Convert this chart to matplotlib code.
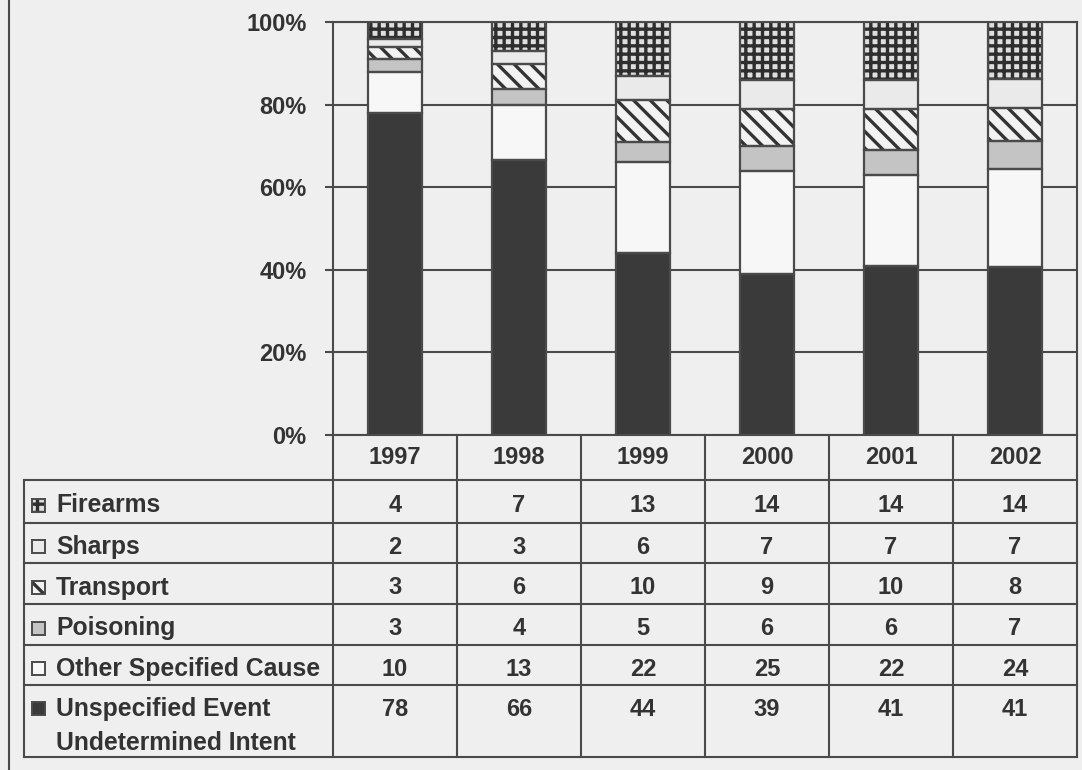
import numpy as np
import matplotlib
matplotlib.use("Agg")
import matplotlib.pyplot as plt
from matplotlib.patches import Rectangle

plt.rcParams['font.family'] = ['Liberation Sans', 'DejaVu Sans']
plt.rcParams['font.weight'] = 'bold'
plt.rcParams['hatch.linewidth'] = 2.4

years = ['1997', '1998', '1999', '2000', '2001', '2002']
causes = ['Firearms', 'Sharps', 'Transport', 'Poisoning',
          'Other Specified Cause', 'Unspecified Event\nUndetermined Intent']
firearms = [4, 7, 13, 14, 14, 14]
sharps = [2, 3, 6, 7, 7, 7]
transport = [3, 6, 10, 9, 10, 8]
poisoning = [3, 4, 5, 6, 6, 7]
other = [10, 13, 22, 25, 22, 24]
unspecified = [78, 66, 44, 39, 41, 41]

series = [firearms, sharps, transport, poisoning, other, unspecified]

# fill, hatch, hatch colour for each cause (same order as causes)
styles = [
    ('#dedede', '++', '#2e2e2e'),
    ('#eaeaea', None, '#444444'),
    ('#f2f2f2', '\\\\', '#333333'),
    ('#c4c4c4', None, '#444444'),
    ('#f7f7f7', None, '#444444'),
    ('#3a3a3a', None, '#444444'),
]

W, H = 1082, 770
BG = '#efefef'
INK = '#333333'
LINE = '#4a4a4a'

fig = plt.figure(figsize=(W / 100, H / 100), dpi=100, facecolor=BG)

# plot area in pixels
px_left, px_right, px_top, px_bottom = 333, 1077, 22, 435
ax = fig.add_axes([px_left / W, 1 - px_bottom / H,
                   (px_right - px_left) / W, (px_bottom - px_top) / H])
ax.set_facecolor(BG)

x = np.arange(len(years))
data = np.array(series, dtype=float)
pct = data / data.sum(axis=0) * 100

# stack from the bottom row of the table upwards
bottom = np.zeros(len(years))
for i in range(len(causes) - 1, -1, -1):
    fc, hatch, hc = styles[i]
    ax.bar(x, pct[i], 0.43, bottom=bottom, color=fc, hatch=hatch,
           edgecolor=hc, linewidth=0, zorder=3)
    ax.bar(x, pct[i], 0.43, bottom=bottom, fill=False,
           edgecolor=LINE, linewidth=1.6, zorder=4)
    bottom += pct[i]

ax.set_xlim(-0.5, len(years) - 0.5)
ax.set_ylim(0, 100)
ax.set_yticks([0, 20, 40, 60, 80, 100])
ax.set_yticklabels([f'{v}%' for v in [0, 20, 40, 60, 80, 100]],
                   fontsize=17, fontweight='bold', color=INK)
ax.set_xticks([])
ax.tick_params(axis='y', length=6, width=1.5, color=LINE, pad=13)
ax.yaxis.grid(True, color=LINE, linewidth=1.5, zorder=1)
for s in ax.spines.values():
    s.set_color(LINE)
    s.set_linewidth(1.5)

# data table drawn in pixel coordinates
tb = fig.add_axes([0, 0, 1, 1], zorder=5)
tb.set_xlim(0, W)
tb.set_ylim(H, 0)
tb.axis('off')
tb.patch.set_alpha(0)

col_w = (px_right - px_left) / len(years)
col_edges = [px_left + k * col_w for k in range(len(years) + 1)]
row_edges = [480, 523, 563, 604, 645, 685, 757]
tab_left = 24

kw = dict(color=LINE, linewidth=1.5)
tb.plot([9, 9], [0, H], **kw)
for xe in col_edges:
    tb.plot([xe, xe], [px_bottom, row_edges[-1]], **kw)
tb.plot([tab_left, tab_left], [row_edges[0], row_edges[-1]], **kw)
for ye in row_edges:
    tb.plot([tab_left, px_right], [ye, ye], **kw)

for k, yr in enumerate(years):
    cx = (col_edges[k] + col_edges[k + 1]) / 2
    tb.text(cx, 458, yr, ha='center', va='center', fontsize=17,
            fontweight='bold', color=INK)

for r, name in enumerate(causes):
    ty = (row_edges[r] + row_edges[r + 1]) / 2 + 4
    if r == len(causes) - 1:
        ty = 709
    fc, hatch, hc = styles[r]
    tb.add_patch(Rectangle((32, ty - 7), 13, 13, facecolor=fc, hatch=hatch,
                           edgecolor=hc, linewidth=0))
    tb.add_patch(Rectangle((32, ty - 7), 13, 13, fill=False,
                           edgecolor=LINE, linewidth=1.4))
    lines = name.split('\n')
    for j, part in enumerate(lines):
        tb.text(56, ty + j * 34, part, ha='left', va='center', fontsize=17.8,
                fontweight='bold', color=INK)
    for k in range(len(years)):
        cx = (col_edges[k] + col_edges[k + 1]) / 2
        tb.text(cx, ty, str(series[r][k]), ha='center', va='center',
                fontsize=17, fontweight='bold', color=INK)

fig.savefig('out.png', dpi=100, facecolor=BG)
